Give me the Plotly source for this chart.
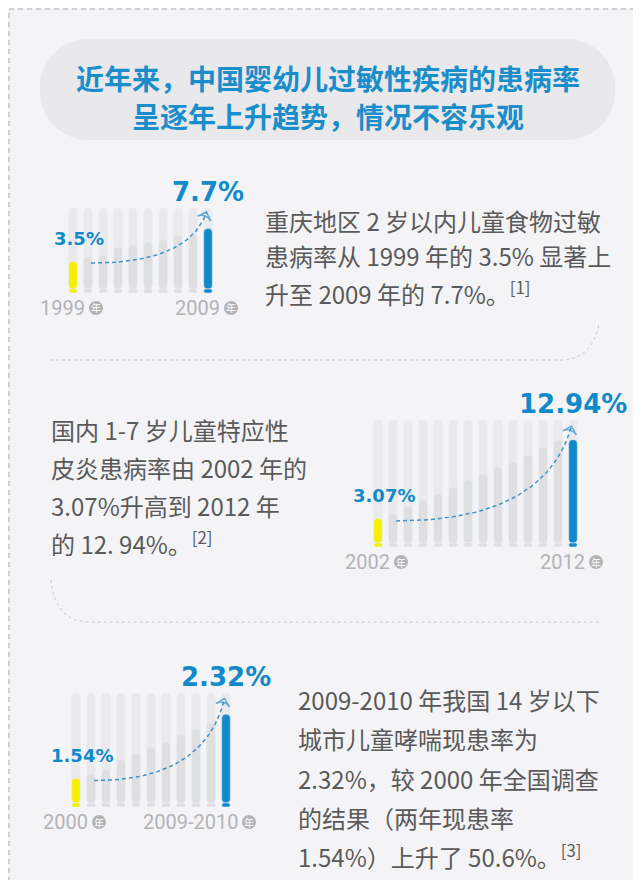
import plotly.graph_objects as go

title_lines = ["近年来，中国婴幼儿过敏性疾病的患病率", "呈逐年上升趋势，情况不容乐观"]

# 1) 重庆地区 2 岁以内儿童食物过敏患病率 (%), 1999 -> 2009
food_rates = [3.5, 4.1, 4.3, 5.3, 5.6, 6.0, 6.3, 6.8, 6.9, 7.7]
food_years = ["1999", "2009"]
food_track = 10.3
food_text = ["重庆地区 2 岁以内儿童食物过敏",
             "患病率从 1999 年的 3.5% 显著上",
             "升至 2009 年的 7.7%。<sup>[1]</sup>"]

# 2) 国内 1-7 岁儿童特应性皮炎患病率 (%), 2002 -> 2012
derm_rates = [3.07, 3.7, 4.6, 5.4, 6.2, 7.0, 7.9, 8.6, 9.5, 10.1, 11.0, 12.0, 12.8, 12.94]
derm_years = ["2002", "2012"]
derm_track = 15.4
derm_text = ["国内 1-7 岁儿童特应性",
             "皮炎患病率由 2002 年的",
             "3.07%升高到 2012 年",
             "的 12. 94%。<sup>[2]</sup>"]

# 3) 城市 14 岁以下儿童哮喘现患率 (%), 2000 -> 2009-2010
asthma_rates = [1.54, 1.60, 1.65, 1.77, 1.84, 1.92, 1.98, 2.07, 2.14, 2.22, 2.32]
asthma_years = ["2000", "2009-2010"]
asthma_floor = 1.24
asthma_track = 2.58
asthma_text = ["2009-2010 年我国 14 岁以下",
               "城市儿童哮喘现患率为",
               "2.32%，较 2000 年全国调查",
               "的结果（两年现患率",
               "1.54%）上升了 50.6%。<sup>[3]</sup>"]

# ---------------- page geometry / styles ----------------
W, H = 641, 880


def fx(p):
    return p / W


def fy(p):
    return 1 - p / H


def pt(x, y):
    return f"{fx(x):.5f},{fy(y):.5f}"


PAGE = "#f4f4f6"
BLUE = "#118ac9"
YELLOW = "#f4ef05"
TRACK = "#eaeaec"
FILL = "#dfdfe2"
TEXT = "#5a5a5a"
YEARC = "#b3b3b5"
CJK = "Noto Sans CJK SC"
NUM = "DejaVu Sans"
STEP = 15
CAP = 4

panels = [
    dict(rates=food_rates, years=food_years, floor=0, top=food_track,
         first_px=65, base_px=285, top_px=200,
         text=food_text, text_x=255, text_y=[212, 248, 285]),
    dict(rates=derm_rates, years=derm_years, floor=0, top=derm_track,
         first_px=370, base_px=539, top_px=412,
         text=derm_text, text_x=41, text_y=[421, 459, 497, 535]),
    dict(rates=asthma_rates, years=asthma_years, floor=asthma_floor, top=asthma_track,
         first_px=68, base_px=799, top_px=685,
         text=asthma_text, text_x=288, text_y=[691, 730, 770, 809, 848]),
]

fig = go.Figure()
axes = {}
annotations = []
shapes = []

for i, p in enumerate(panels, start=1):
    sfx = "" if i == 1 else str(i)
    xa, ya = "x" + sfx, "y" + sfx
    rates = p["rates"]
    n = len(rates)
    idx = list(range(n))
    floor, top = p["floor"], p["top"]
    scale = (p["base_px"] - CAP - p["top_px"]) / (top - floor)
    cap = CAP / scale
    colors = [YELLOW] + [FILL] * (n - 2) + [BLUE]

    common = dict(x=idx, base=floor, width=0.57, xaxis=xa, yaxis=ya,
                  showlegend=False, hoverinfo="skip")
    # background tracks
    fig.add_trace(go.Bar(y=[top - floor] * n, marker=dict(color=TRACK, cornerradius=CAP), **common))
    # rising bars
    fig.add_trace(go.Bar(y=[r - floor for r in rates], marker=dict(color=colors, cornerradius=CAP), **common))
    # rounded bottoms
    fig.add_trace(go.Bar(y=[-cap] * n, marker=dict(color=colors, cornerradius=CAP), **common))

    # dashed growth arrow
    x0, y0 = 1.2, rates[0] - 0.02 * (top - floor)
    x2, y2 = n - 1 - 0.1, top - 0.05 * (top - floor)
    x1, y1 = x2 - 0.15 * (x2 - x0), y0
    ts = [k / 40 for k in range(41)]
    cx = [(1 - t) ** 2 * x0 + 2 * t * (1 - t) * x1 + t ** 2 * x2 for t in ts]
    cy = [(1 - t) ** 2 * y0 + 2 * t * (1 - t) * y1 + t ** 2 * y2 for t in ts]
    fig.add_trace(go.Scatter(x=cx, y=cy, mode="lines", xaxis=xa, yaxis=ya,
                             line=dict(color="#3d93c9", width=1.5, dash="4px,3px"),
                             showlegend=False, hoverinfo="skip", cliponaxis=False))
    fig.add_trace(go.Scatter(x=cx[-2:], y=cy[-2:], mode="markers", xaxis=xa, yaxis=ya,
                             marker=dict(symbol="arrow-wide-open", angleref="previous", size=[0, 10],
                                         color="#2f8bc4", line=dict(color="#2f8bc4", width=1.5)),
                             showlegend=False, hoverinfo="skip", cliponaxis=False))

    axes["xaxis" + sfx] = dict(domain=[fx(p["first_px"] - STEP / 2), fx(p["first_px"] + STEP * (n - 1) + STEP / 2)],
                               range=[-0.5, n - 0.5], visible=False, anchor=ya, fixedrange=True)
    axes["yaxis" + sfx] = dict(domain=[fy(p["base_px"]), fy(p["top_px"])],
                               range=[floor - cap, top], visible=False, anchor=xa, fixedrange=True)

    # value labels
    annotations.append(dict(x=n - 1, y=top, xref=xa, yref=ya, text=f"{rates[-1]}%", showarrow=False,
                            xanchor="center", yanchor="bottom", yshift=-1,
                            font=dict(family=NUM, size=26, color=BLUE, weight="bold")))
    annotations.append(dict(x=0, y=rates[0], xref=xa, yref=ya, text=f"{rates[0]}%", showarrow=False,
                            xanchor="center", yanchor="bottom", xshift=6, yshift=10,
                            font=dict(family=NUM, size=18, color=BLUE, weight="bold")))

    # year labels with the little circled 年
    for pos, yr in zip([0, n - 1], p["years"]):
        bar_px = p["first_px"] + STEP * pos
        ly = p["base_px"] + 15
        annotations.append(dict(x=fx(bar_px + 14), y=fy(ly), xref="paper", yref="paper", text=yr,
                                showarrow=False, xanchor="right", yanchor="middle",
                                font=dict(family="Roboto", size=20, color=YEARC)))
        ccx = bar_px + 23
        shapes.append(dict(type="circle", xref="paper", yref="paper",
                           x0=fx(ccx - 7), x1=fx(ccx + 7), y0=fy(ly + 7), y1=fy(ly - 7),
                           fillcolor=YEARC, line=dict(width=0), layer="above"))
        annotations.append(dict(x=fx(ccx), y=fy(ly), xref="paper", yref="paper", text="年",
                                showarrow=False, xanchor="center", yanchor="middle",
                                font=dict(family=CJK, size=10, color="white")))

    # body copy
    for line, ly in zip(p["text"], p["text_y"]):
        annotations.append(dict(x=fx(p["text_x"]), y=fy(ly), xref="paper", yref="paper", text=line,
                                showarrow=False, xanchor="left", yanchor="middle",
                                font=dict(family=CJK, size=24, color=TEXT)))

# title
for line, ly in zip(title_lines, [70, 108]):
    annotations.append(dict(x=fx(320), y=fy(ly), xref="paper", yref="paper", text=line, showarrow=False,
                            xanchor="center", yanchor="middle",
                            font=dict(family=CJK, size=28, color="#1a8dca", weight="bold")))

# title pill
x0, y0, x1, y1, r = 32, 31, 607, 132, 48
k = 0.5523 * r
pill = (f"M {pt(x0 + r, y0)} L {pt(x1 - r, y0)} "
        f"C {pt(x1 - r + k, y0)} {pt(x1, y0 + r - k)} {pt(x1, y0 + r)} "
        f"L {pt(x1, y1 - r)} C {pt(x1, y1 - r + k)} {pt(x1 - r + k, y1)} {pt(x1 - r, y1)} "
        f"L {pt(x0 + r, y1)} C {pt(x0 + r - k, y1)} {pt(x0, y1 - r + k)} {pt(x0, y1 - r)} "
        f"L {pt(x0, y0 + r)} C {pt(x0, y0 + r - k)} {pt(x0 + r - k, y0)} {pt(x0 + r, y0)} Z")
shapes.append(dict(type="path", xref="paper", yref="paper", path=pill,
                   fillcolor="#e9e9eb", line=dict(width=0), layer="below"))

# dashed separators
sep = dict(type="path", xref="paper", yref="paper", line=dict(color="#c6c6c8", width=1, dash="3px,3px"))
shapes.append(dict(sep, path=f"M {pt(42, 352)} L {pt(552, 352)} Q {pt(584, 352)} {pt(591, 316)}"))
shapes.append(dict(sep, path=f"M {pt(43, 572)} Q {pt(47, 614)} {pt(82, 614)} L {pt(593, 614)}"))

# page border
shapes.append(dict(type="rect", xref="paper", yref="paper", x0=fx(1), x1=fx(640), y0=fy(879), y1=fy(1),
                   line=dict(color="#c4c4c6", width=1.5, dash="5px,4px")))

fig.update_layout(
    width=W, height=H,
    margin=dict(l=0, r=0, t=0, b=0),
    paper_bgcolor=PAGE, plot_bgcolor="rgba(0,0,0,0)",
    barmode="overlay",
    showlegend=False,
    annotations=annotations,
    shapes=shapes,
    **axes,
)

fig.write_html("out.html", config={"displayModeBar": False})
